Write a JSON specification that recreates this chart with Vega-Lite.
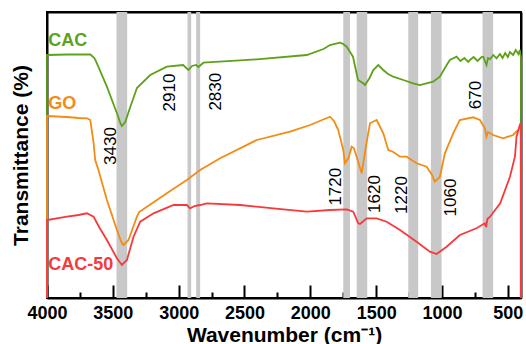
{
  "$schema": "https://vega.github.io/schema/vega-lite/v6.json",
  "width": 474,
  "height": 286,
  "autosize": "none",
  "padding": {"left": 47, "top": 12, "right": 5, "bottom": 46},
  "config": {
    "view": {"stroke": "black", "strokeWidth": 2},
    "font": "Liberation Sans"
  },
  "datasets": {
    "bands": [
      {"peak": "3430", "w1": 3472, "w2": 3391},
      {"peak": "2910", "w1": 2933, "w2": 2905},
      {"peak": "2830", "w1": 2867, "w2": 2837},
      {"peak": "1720", "w1": 1750, "w2": 1699},
      {"peak": "1620", "w1": 1648, "w2": 1568},
      {"peak": "1220", "w1": 1256, "w2": 1181},
      {"peak": "1060", "w1": 1084, "w2": 1003},
      {"peak": "670", "w1": 692, "w2": 612}
    ],
    "peaks": [
      {"label": "3430", "w": 3512, "t": 152},
      {"label": "2910", "w": 3064, "t": 205.5},
      {"label": "2830", "w": 2715, "t": 206.3},
      {"label": "1720", "w": 1805, "t": 111.3},
      {"label": "1620", "w": 1509, "t": 104},
      {"label": "1220", "w": 1301, "t": 103},
      {"label": "1060", "w": 933, "t": 100.5},
      {"label": "670", "w": 743, "t": 203}
    ],
    "names": [
      {"series": "CAC", "w": 3990, "t": 257},
      {"series": "GO", "w": 3990, "t": 194},
      {"series": "CAC-50", "w": 3990, "t": 33}
    ],
    "spectra": [
      {"series": "CAC", "i": 0, "w": 4000, "t": 0},
      {"series": "CAC", "i": 1, "w": 4000, "t": 243},
      {"series": "CAC", "i": 2, "w": 3848, "t": 243.5},
      {"series": "CAC", "i": 3, "w": 3760, "t": 243.5},
      {"series": "CAC", "i": 4, "w": 3671, "t": 243.5},
      {"series": "CAC", "i": 5, "w": 3640, "t": 240},
      {"series": "CAC", "i": 6, "w": 3621, "t": 234.7},
      {"series": "CAC", "i": 7, "w": 3545, "t": 211.3},
      {"series": "CAC", "i": 8, "w": 3469, "t": 184.7},
      {"series": "CAC", "i": 9, "w": 3440, "t": 174},
      {"series": "CAC", "i": 10, "w": 3431, "t": 172},
      {"series": "CAC", "i": 11, "w": 3406, "t": 176},
      {"series": "CAC", "i": 12, "w": 3370, "t": 190},
      {"series": "CAC", "i": 13, "w": 3317, "t": 210},
      {"series": "CAC", "i": 14, "w": 3216, "t": 223},
      {"series": "CAC", "i": 15, "w": 3090, "t": 231.3},
      {"series": "CAC", "i": 16, "w": 2966, "t": 233},
      {"series": "CAC", "i": 17, "w": 2926, "t": 228},
      {"series": "CAC", "i": 18, "w": 2898, "t": 232},
      {"series": "CAC", "i": 19, "w": 2867, "t": 233},
      {"series": "CAC", "i": 20, "w": 2850, "t": 231},
      {"series": "CAC", "i": 21, "w": 2812, "t": 235.3},
      {"series": "CAC", "i": 22, "w": 2407, "t": 238.7},
      {"series": "CAC", "i": 23, "w": 2027, "t": 243},
      {"series": "CAC", "i": 24, "w": 1900, "t": 249},
      {"series": "CAC", "i": 25, "w": 1851, "t": 253},
      {"series": "CAC", "i": 26, "w": 1775, "t": 255.3},
      {"series": "CAC", "i": 27, "w": 1750, "t": 254},
      {"series": "CAC", "i": 28, "w": 1724, "t": 251.3},
      {"series": "CAC", "i": 29, "w": 1676, "t": 241.3},
      {"series": "CAC", "i": 30, "w": 1638, "t": 218},
      {"series": "CAC", "i": 31, "w": 1598, "t": 214.7},
      {"series": "CAC", "i": 32, "w": 1585, "t": 213},
      {"series": "CAC", "i": 33, "w": 1550, "t": 220},
      {"series": "CAC", "i": 34, "w": 1522, "t": 228},
      {"series": "CAC", "i": 35, "w": 1484, "t": 233},
      {"series": "CAC", "i": 36, "w": 1446, "t": 228},
      {"series": "CAC", "i": 37, "w": 1410, "t": 224},
      {"series": "CAC", "i": 38, "w": 1370, "t": 221.3},
      {"series": "CAC", "i": 39, "w": 1294, "t": 218},
      {"series": "CAC", "i": 40, "w": 1219, "t": 214.7},
      {"series": "CAC", "i": 41, "w": 1168, "t": 213},
      {"series": "CAC", "i": 42, "w": 1067, "t": 216.3},
      {"series": "CAC", "i": 43, "w": 1016, "t": 221.3},
      {"series": "CAC", "i": 44, "w": 960, "t": 234},
      {"series": "CAC", "i": 45, "w": 940, "t": 238},
      {"series": "CAC", "i": 46, "w": 889, "t": 241.3},
      {"series": "CAC", "i": 47, "w": 860, "t": 237},
      {"series": "CAC", "i": 48, "w": 830, "t": 240},
      {"series": "CAC", "i": 49, "w": 800, "t": 236},
      {"series": "CAC", "i": 50, "w": 788, "t": 238},
      {"series": "CAC", "i": 51, "w": 760, "t": 241},
      {"series": "CAC", "i": 52, "w": 730, "t": 237},
      {"series": "CAC", "i": 53, "w": 700, "t": 241},
      {"series": "CAC", "i": 54, "w": 687, "t": 241.3},
      {"series": "CAC", "i": 55, "w": 662, "t": 233},
      {"series": "CAC", "i": 56, "w": 650, "t": 240},
      {"series": "CAC", "i": 57, "w": 635, "t": 239},
      {"series": "CAC", "i": 58, "w": 610, "t": 243},
      {"series": "CAC", "i": 59, "w": 586, "t": 239.7},
      {"series": "CAC", "i": 60, "w": 560, "t": 244},
      {"series": "CAC", "i": 61, "w": 540, "t": 240},
      {"series": "CAC", "i": 62, "w": 520, "t": 245},
      {"series": "CAC", "i": 63, "w": 500, "t": 241},
      {"series": "CAC", "i": 64, "w": 484, "t": 246},
      {"series": "CAC", "i": 65, "w": 460, "t": 243},
      {"series": "CAC", "i": 66, "w": 440, "t": 248},
      {"series": "CAC", "i": 67, "w": 420, "t": 244},
      {"series": "CAC", "i": 68, "w": 409, "t": 248},
      {"series": "CAC", "i": 69, "w": 400, "t": 240},
      {"series": "CAC", "i": 70, "w": 400, "t": 0},
      {"series": "GO", "i": 0, "w": 4000, "t": 0},
      {"series": "GO", "i": 1, "w": 4000, "t": 182},
      {"series": "GO", "i": 2, "w": 3848, "t": 181},
      {"series": "GO", "i": 3, "w": 3760, "t": 180},
      {"series": "GO", "i": 4, "w": 3697, "t": 179.7},
      {"series": "GO", "i": 5, "w": 3671, "t": 178},
      {"series": "GO", "i": 6, "w": 3646, "t": 155},
      {"series": "GO", "i": 7, "w": 3634, "t": 138},
      {"series": "GO", "i": 8, "w": 3609, "t": 128},
      {"series": "GO", "i": 9, "w": 3545, "t": 98},
      {"series": "GO", "i": 10, "w": 3469, "t": 68},
      {"series": "GO", "i": 11, "w": 3435, "t": 56},
      {"series": "GO", "i": 12, "w": 3419, "t": 53},
      {"series": "GO", "i": 13, "w": 3381, "t": 58},
      {"series": "GO", "i": 14, "w": 3317, "t": 81.3},
      {"series": "GO", "i": 15, "w": 3300, "t": 86},
      {"series": "GO", "i": 16, "w": 3241, "t": 91.3},
      {"series": "GO", "i": 17, "w": 3090, "t": 104.7},
      {"series": "GO", "i": 18, "w": 2938, "t": 118},
      {"series": "GO", "i": 19, "w": 2837, "t": 128},
      {"series": "GO", "i": 20, "w": 2685, "t": 139.7},
      {"series": "GO", "i": 21, "w": 2407, "t": 158},
      {"series": "GO", "i": 22, "w": 2154, "t": 166.3},
      {"series": "GO", "i": 23, "w": 2002, "t": 173},
      {"series": "GO", "i": 24, "w": 1851, "t": 181.3},
      {"series": "GO", "i": 25, "w": 1820, "t": 177},
      {"series": "GO", "i": 26, "w": 1788, "t": 168},
      {"series": "GO", "i": 27, "w": 1750, "t": 148},
      {"series": "GO", "i": 28, "w": 1737, "t": 134.7},
      {"series": "GO", "i": 29, "w": 1710, "t": 140},
      {"series": "GO", "i": 30, "w": 1686, "t": 151.3},
      {"series": "GO", "i": 31, "w": 1670, "t": 150},
      {"series": "GO", "i": 32, "w": 1648, "t": 141.3},
      {"series": "GO", "i": 33, "w": 1610, "t": 124.7},
      {"series": "GO", "i": 34, "w": 1580, "t": 150},
      {"series": "GO", "i": 35, "w": 1547, "t": 174.7},
      {"series": "GO", "i": 36, "w": 1496, "t": 178},
      {"series": "GO", "i": 37, "w": 1446, "t": 164.7},
      {"series": "GO", "i": 38, "w": 1408, "t": 148},
      {"series": "GO", "i": 39, "w": 1373, "t": 146.3},
      {"series": "GO", "i": 40, "w": 1319, "t": 141.3},
      {"series": "GO", "i": 41, "w": 1269, "t": 141.3},
      {"series": "GO", "i": 42, "w": 1193, "t": 134.7},
      {"series": "GO", "i": 43, "w": 1117, "t": 131.3},
      {"series": "GO", "i": 44, "w": 1080, "t": 124},
      {"series": "GO", "i": 45, "w": 1054, "t": 116.3},
      {"series": "GO", "i": 46, "w": 1016, "t": 121.3},
      {"series": "GO", "i": 47, "w": 978, "t": 144.7},
      {"series": "GO", "i": 48, "w": 915, "t": 164.7},
      {"series": "GO", "i": 49, "w": 865, "t": 178},
      {"series": "GO", "i": 50, "w": 763, "t": 180.7},
      {"series": "GO", "i": 51, "w": 712, "t": 178},
      {"series": "GO", "i": 52, "w": 674, "t": 169.7},
      {"series": "GO", "i": 53, "w": 662, "t": 161.3},
      {"series": "GO", "i": 54, "w": 650, "t": 166},
      {"series": "GO", "i": 55, "w": 612, "t": 163},
      {"series": "GO", "i": 56, "w": 536, "t": 159.7},
      {"series": "GO", "i": 57, "w": 460, "t": 163},
      {"series": "GO", "i": 58, "w": 422, "t": 168},
      {"series": "CAC-50", "i": 0, "w": 4000, "t": 0},
      {"series": "CAC-50", "i": 1, "w": 4000, "t": 78},
      {"series": "CAC-50", "i": 2, "w": 3848, "t": 81.3},
      {"series": "CAC-50", "i": 3, "w": 3760, "t": 83},
      {"series": "CAC-50", "i": 4, "w": 3697, "t": 84.7},
      {"series": "CAC-50", "i": 5, "w": 3646, "t": 81.3},
      {"series": "CAC-50", "i": 6, "w": 3600, "t": 70},
      {"series": "CAC-50", "i": 7, "w": 3545, "t": 58},
      {"series": "CAC-50", "i": 8, "w": 3469, "t": 39.7},
      {"series": "CAC-50", "i": 9, "w": 3431, "t": 33},
      {"series": "CAC-50", "i": 10, "w": 3393, "t": 38},
      {"series": "CAC-50", "i": 11, "w": 3343, "t": 61.3},
      {"series": "CAC-50", "i": 12, "w": 3292, "t": 76.3},
      {"series": "CAC-50", "i": 13, "w": 3191, "t": 84.7},
      {"series": "CAC-50", "i": 14, "w": 3039, "t": 93},
      {"series": "CAC-50", "i": 15, "w": 2938, "t": 93},
      {"series": "CAC-50", "i": 16, "w": 2913, "t": 89.7},
      {"series": "CAC-50", "i": 17, "w": 2880, "t": 92},
      {"series": "CAC-50", "i": 18, "w": 2837, "t": 93},
      {"series": "CAC-50", "i": 19, "w": 2786, "t": 94.7},
      {"series": "CAC-50", "i": 20, "w": 2533, "t": 93},
      {"series": "CAC-50", "i": 21, "w": 2281, "t": 89.7},
      {"series": "CAC-50", "i": 22, "w": 2027, "t": 86.3},
      {"series": "CAC-50", "i": 23, "w": 1851, "t": 88},
      {"series": "CAC-50", "i": 24, "w": 1724, "t": 88.7},
      {"series": "CAC-50", "i": 25, "w": 1674, "t": 86.3},
      {"series": "CAC-50", "i": 26, "w": 1636, "t": 74.7},
      {"series": "CAC-50", "i": 27, "w": 1623, "t": 74},
      {"series": "CAC-50", "i": 28, "w": 1572, "t": 79.7},
      {"series": "CAC-50", "i": 29, "w": 1496, "t": 79.7},
      {"series": "CAC-50", "i": 30, "w": 1420, "t": 76.3},
      {"series": "CAC-50", "i": 31, "w": 1319, "t": 68},
      {"series": "CAC-50", "i": 32, "w": 1193, "t": 56.3},
      {"series": "CAC-50", "i": 33, "w": 1092, "t": 46.3},
      {"series": "CAC-50", "i": 34, "w": 1041, "t": 44},
      {"series": "CAC-50", "i": 35, "w": 965, "t": 51.3},
      {"series": "CAC-50", "i": 36, "w": 864, "t": 63},
      {"series": "CAC-50", "i": 37, "w": 738, "t": 69.7},
      {"series": "CAC-50", "i": 38, "w": 675, "t": 74.7},
      {"series": "CAC-50", "i": 39, "w": 665, "t": 71},
      {"series": "CAC-50", "i": 40, "w": 655, "t": 79},
      {"series": "CAC-50", "i": 41, "w": 635, "t": 81.3},
      {"series": "CAC-50", "i": 42, "w": 558, "t": 94.7},
      {"series": "CAC-50", "i": 43, "w": 484, "t": 121.3},
      {"series": "CAC-50", "i": 44, "w": 446, "t": 141.3},
      {"series": "CAC-50", "i": 45, "w": 434, "t": 161.3},
      {"series": "CAC-50", "i": 46, "w": 409, "t": 173},
      {"series": "CAC-50", "i": 47, "w": 402, "t": 175},
      {"series": "CAC-50", "i": 48, "w": 402, "t": 0}
    ]
  },
  "layer": [
    {
      "data": {"name": "bands"},
      "mark": {"type": "rect", "color": "#c8c8c8"},
      "encoding": {
        "x": {
          "field": "w1", "type": "quantitative",
          "scale": {"domain": [400, 4000], "reverse": true, "nice": false, "zero": false},
          "axis": {
            "values": [4000, 3500, 3000, 2500, 2000, 1500, 1000, 500],
            "format": "d",
            "grid": false,
            "tickSize": -13,
            "tickWidth": 2,
            "tickColor": "black",
            "domainColor": "black",
            "domainWidth": 2,
            "labelFont": "Liberation Sans",
            "labelFontSize": 18,
            "labelFontWeight": "bold",
            "labelColor": "black",
            "labelPadding": 19,
            "labelFlush": false,
            "labelOverlap": false,
            "title": "Wavenumber (cm⁻¹)",
            "titleFont": "Liberation Sans",
            "titleFontSize": 21,
            "titleFontWeight": "bold",
            "titleColor": "black",
            "titlePadding": 2
          }
        },
        "x2": {"field": "w2"},
        "y": {"value": 0},
        "y2": {"value": 286}
      }
    },
    {
      "data": {"name": "spectra"},
      "mark": {"type": "line", "strokeWidth": 1.8, "interpolate": "linear"},
      "encoding": {
        "x": {"field": "w", "type": "quantitative", "axis": null},
        "y": {
          "field": "t", "type": "quantitative",
          "scale": {"domain": [0, 286], "nice": false},
          "axis": {
            "ticks": false,
            "labels": false,
            "grid": false,
            "domainColor": "black",
            "domainWidth": 2,
            "title": "Transmittance (%)",
            "titleFont": "Liberation Sans",
            "titleFontSize": 21,
            "titleFontWeight": "bold",
            "titleColor": "black",
            "titlePadding": 16
          }
        },
        "color": {
          "field": "series", "type": "nominal",
          "scale": {"domain": ["CAC", "GO", "CAC-50"], "range": ["#5ea219", "#f28c16", "#f8393c"]},
          "legend": null
        },
        "order": {"field": "i", "type": "quantitative"}
      }
    },
    {
      "data": {"name": "names"},
      "mark": {"type": "text", "align": "left", "baseline": "middle", "fontSize": 18, "fontWeight": "bold", "font": "Liberation Sans"},
      "encoding": {
        "x": {
          "field": "w", "type": "quantitative",
          "axis": {"orient": "top", "labels": false, "ticks": false, "grid": false, "domainColor": "black", "domainWidth": 2, "title": null}
        },
        "y": {"field": "t", "type": "quantitative", "axis": null},
        "text": {"field": "series"},
        "color": {"field": "series", "type": "nominal", "legend": null}
      }
    },
    {
      "data": {"name": "peaks"},
      "mark": {"type": "text", "angle": 270, "align": "center", "baseline": "middle", "fontSize": 17, "font": "Liberation Sans", "color": "black"},
      "encoding": {
        "x": {
          "field": "w", "type": "quantitative",
          "axis": {
            "values": [3750, 3250, 2750, 2250, 1750, 1250, 750],
            "labels": false,
            "domain": false,
            "grid": false,
            "tickSize": -6,
            "tickWidth": 2,
            "tickColor": "black",
            "title": null
          }
        },
        "y": {
          "field": "t", "type": "quantitative",
          "axis": {"orient": "right", "labels": false, "ticks": false, "grid": false, "domainColor": "black", "domainWidth": 2, "title": null}
        },
        "text": {"field": "label"}
      }
    }
  ],
  "resolve": {"axis": {"x": "independent", "y": "independent"}}
}
